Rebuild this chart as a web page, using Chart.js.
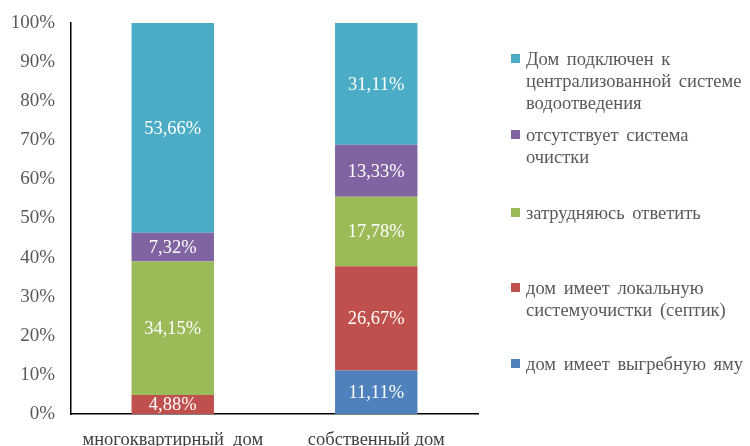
<!DOCTYPE html>
<html>
<head>
<meta charset="utf-8">
<script src="https://cdn.jsdelivr.net/npm/chart.js@4"></script>
<style>
  body { margin: 0; background: #fff; }
  #wrap { position: relative; width: 750px; height: 446px; overflow: hidden; }
  #legend { position: absolute; left: 0; top: 0; }
  .item { position: absolute; left: 511px; width: 260px; font-family: "Liberation Serif", serif;
          font-size: 18.5px; line-height: 22px; color: #595959; white-space: nowrap; }
  .item .sw { position: absolute; left: 0; top: 6px; width: 9px; height: 9px; }
  .item .tx { margin-left: 15px; word-spacing: 3px; }
</style>
</head>
<body>
<div id="wrap">
  <canvas id="chart" width="750" height="446"></canvas>
  <div id="legend"></div>
</div>
<script>
const categories = ["многоквартирный  дом", "собственный дом"];

const seriesNames = [
  "дом имеет выгребную яму",
  "дом имеет локальную систему очистки (септик)",
  "затрудняюсь ответить",
  "отсутствует система очистки",
  "Дом подключен к централизованной системе водоотведения"
];
const seriesColors = ["#4F81BD", "#C0504D", "#9BBB59", "#8064A2", "#4BACC6"];

const pit = [0, 11.11];
const septic = [4.88, 26.67];
const unsure = [34.15, 17.78];
const noTreatment = [7.32, 13.33];
const central = [53.66, 31.11];

const yTicks = [0, 10, 20, 30, 40, 50, 60, 70, 80, 90, 100];

// legend text broken the same way as the picture, top-down order
const legendLines = [
  ["Дом подключен к", "централизованной  системе", "водоотведения"],
  ["отсутствует система", "очистки"],
  ["затрудняюсь ответить"],
  ["дом имеет локальную", "системуочистки (септик)"],
  ["дом имеет выгребную яму"]
];
const legendTops = [48, 124, 202, 277, 353];

const seriesValues = [pit, septic, unsure, noTreatment, central];

const fmt = v => v.toFixed(2).replace(".", ",") + "%";

const barLabels = {
  id: "barLabels",
  afterDatasetsDraw(chart) {
    const ctx = chart.ctx;
    ctx.save();
    ctx.fillStyle = "#ffffff";
    ctx.font = '18.5px "Liberation Serif"';
    ctx.textAlign = "center";
    ctx.textBaseline = "middle";
    chart.data.datasets.forEach((ds, i) => {
      chart.getDatasetMeta(i).data.forEach((bar, j) => {
        const v = ds.data[j];
        if (!v) return;
        const mid = (bar.y + bar.base) / 2;
        ctx.fillText(fmt(v), bar.x, mid + 1);
      });
    });
    ctx.restore();
  }
};

new Chart(document.getElementById("chart"), {
  type: "bar",
  data: {
    labels: categories,
    datasets: seriesNames.map((name, i) => ({
      label: name,
      data: seriesValues[i],
      backgroundColor: seriesColors[i],
      borderWidth: 0,
      barPercentage: 0.405,
      categoryPercentage: 1
    }))
  },
  options: {
    responsive: false,
    animation: false,
    layout: { padding: { left: 0, right: 272, top: 23, bottom: 0 } },
    plugins: { legend: { display: false }, tooltip: { enabled: false } },
    scales: {
      x: {
        stacked: true,
        grid: { display: false, drawTicks: false },
        border: { color: "#000", width: 1.5 },
        ticks: {
          padding: 15,
          color: "#404040",
          font: { family: "Liberation Serif", size: 18.5 }
        },
        afterFit: s => { s.height = 32; s.paddingLeft = 0; s.paddingRight = 0; }
      },
      y: {
        stacked: true,
        min: 0,
        max: 100,
        grid: { display: false, drawTicks: false },
        border: { color: "#000", width: 1.5 },
        afterBuildTicks: s => { s.ticks = yTicks.map(v => ({ value: v })); },
        ticks: {
          padding: 16,
          color: "#595959",
          font: { family: "Liberation Serif", size: 19 },
          callback: v => v + "%"
        },
        afterFit: s => { s.width = 71; s.paddingTop = 0; s.paddingBottom = 0; }
      }
    }
  },
  plugins: [barLabels]
});

const legendEl = document.getElementById("legend");
const order = [4, 3, 2, 1, 0];
order.forEach((si, k) => {
  const item = document.createElement("div");
  item.className = "item";
  item.style.top = legendTops[k] + "px";
  const sw = document.createElement("div");
  sw.className = "sw";
  sw.style.background = seriesColors[si];
  const tx = document.createElement("div");
  tx.className = "tx";
  tx.innerHTML = legendLines[k].join("<br>");
  item.appendChild(sw);
  item.appendChild(tx);
  legendEl.appendChild(item);
});
</script>
</body>
</html>
